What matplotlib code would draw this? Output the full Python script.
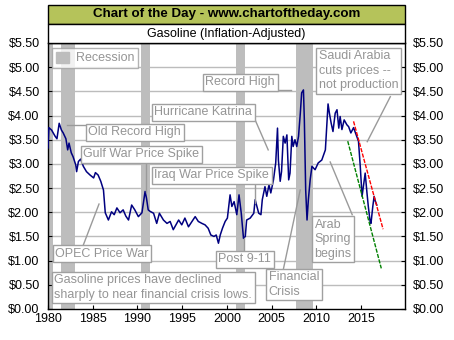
# gasoline chart, inflation adjusted, chart of the day style
import matplotlib.pyplot as plt
from matplotlib.patches import Rectangle, Patch

plt.rcParams['font.family'] = ['Liberation Sans', 'DejaVu Sans']

# price (year, dollars)
yrs = [1980.0, 1980.1, 1980.4, 1980.8, 1981.0, 1981.25, 1981.5, 1981.7, 1982.0, 1982.2,
       1982.35, 1982.6, 1982.8, 1983.1, 1983.2, 1983.4, 1983.65, 1983.95, 1984.3, 1984.7,
       1985.1, 1985.3, 1985.6, 1985.9, 1986.2, 1986.4, 1986.75, 1987.1, 1987.4, 1987.7,
       1988.05, 1988.4, 1988.7, 1989.0, 1989.35, 1989.7, 1990.1, 1990.5, 1990.85, 1991.0,
       1991.2, 1991.4, 1991.8, 1992.15, 1992.45, 1992.9, 1993.3, 1993.65, 1994.0, 1994.6,
       1994.95, 1995.3, 1995.7, 1996.1, 1996.45, 1996.8, 1997.2, 1997.55, 1997.9, 1998.2,
       1998.55, 1998.8, 1999.05, 1999.25, 1999.5, 1999.8, 2000.05, 2000.35, 2000.55, 2000.8,
       2001.1, 2001.35, 2001.6, 2001.85, 2002.05, 2002.2, 2002.6, 2003.0, 2003.15, 2003.35,
       2003.55, 2003.8, 2003.95, 2004.25, 2004.45, 2004.7, 2004.9, 2005.2, 2005.45, 2005.65,
       2005.75, 2005.95, 2006.1, 2006.3, 2006.5, 2006.7, 2006.9, 2007.05, 2007.25, 2007.4,
       2007.6, 2007.8, 2008.0, 2008.2, 2008.35, 2008.55, 2008.65, 2008.8, 2008.95, 2009.1,
       2009.3, 2009.5, 2009.85, 2010.2, 2010.6, 2011.0, 2011.15, 2011.3, 2011.45, 2011.65,
       2011.85, 2012.1, 2012.3, 2012.5, 2012.65, 2012.85, 2013.1, 2013.4, 2013.6, 2013.85,
       2014.15, 2014.5, 2014.7, 2014.9, 2015.1, 2015.25, 2015.45, 2015.65, 2015.8, 2016.0,
       2016.1, 2016.3, 2016.45, 2016.6, 2016.75]
price = [3.33, 3.75, 3.70, 3.57, 3.52, 3.84, 3.70, 3.64, 3.52, 3.29,
         3.43, 3.23, 3.15, 2.98, 2.84, 3.05, 3.10, 2.95, 2.84, 2.77,
         2.71, 2.82, 2.77, 2.64, 2.46, 1.99, 1.84, 2.01, 1.95, 2.09,
         1.99, 2.05, 1.92, 1.84, 2.15, 2.05, 1.91, 1.99, 2.43, 2.30,
         2.05, 2.02, 1.98, 1.77, 1.98, 1.84, 1.77, 1.81, 1.64, 1.84,
         1.74, 1.88, 1.70, 1.81, 1.91, 1.81, 1.77, 1.74, 1.67, 1.53,
         1.50, 1.53, 1.36, 1.53, 1.67, 1.81, 1.88, 2.36, 2.12, 2.22,
         1.95, 2.36, 1.98, 1.46, 1.50, 1.84, 1.88, 1.98, 2.26, 2.12,
         1.98, 1.95, 2.26, 2.53, 2.33, 2.57, 2.40, 2.67, 3.02, 3.74,
         3.08, 2.64, 2.84, 3.57, 3.43, 3.60, 2.67, 2.81, 3.57, 3.36,
         3.50, 3.36, 3.57, 4.05, 4.47, 4.53, 3.91, 2.46, 1.84, 2.26,
         2.67, 2.95, 2.88, 3.02, 3.08, 3.29, 3.77, 4.24, 4.05, 3.84,
         3.67, 4.05, 4.12, 3.74, 3.98, 3.71, 3.91, 3.81, 3.77, 3.64,
         3.75, 3.57, 3.47, 2.95, 2.33, 2.53, 2.81, 2.40, 2.12, 1.81,
         1.77, 2.12, 2.33, 2.22, 2.15]

# trend lines
trend_x_red = [2014.15, 2017.45]
trend_y_red = [3.88, 1.65]
trend_x_green = [2013.5, 2017.25]
trend_y_green = [3.47, 0.84]

# recessions (start, end)
recessions = [(1980.0, 1980.6), (1981.45, 1983.0), (1990.4, 1991.4),
              (2001.0, 2002.0), (2007.7, 2009.6)]

yticks = [0, 0.5, 1, 1.5, 2, 2.5, 3, 3.5, 4, 4.5, 5, 5.5]
xticks = [1980, 1985, 1990, 1995, 2000, 2005, 2010, 2015]

W, H = 454, 340
fig = plt.figure(figsize=(W / 100, H / 100), dpi=100)
fig.patch.set_facecolor('white')

L, R, T, B = 48, 405, 43, 309
ax = fig.add_axes([L / W, 1 - B / H, (R - L) / W, (B - T) / H])

# title bands
fig.patches.append(Rectangle((L / W, 1 - 24 / H), (R - L) / W, 19 / H, transform=fig.transFigure,
                             facecolor='#b5c35a', edgecolor='black', lw=1))
fig.patches.append(Rectangle((L / W, 1 - 43 / H), (R - L) / W, 19 / H, transform=fig.transFigure,
                             facecolor='white', edgecolor='black', lw=1))
fig.text((L + R) / 2 / W, 1 - 14.5 / H, 'Chart of the Day - www.chartoftheday.com',
         ha='center', va='center', fontsize=9.6, fontweight='bold', color='black')
fig.text((L + R) / 2 / W, 1 - 33.5 / H, 'Gasoline (Inflation-Adjusted)',
         ha='center', va='center', fontsize=9, color='black')

rec_col = '#bdbdbd'
for a, b in recessions:
    ax.axvspan(a, b, color=rec_col, lw=0, zorder=1)

for y in yticks[1:]:
    ax.axhline(y, color='#bcbcbc', lw=1, zorder=0.5)

ax.plot(yrs, price, color='#000080', lw=1.1, zorder=3)
ax.plot(trend_x_red, trend_y_red, color='red', lw=1, ls=(0, (3, 1)), zorder=4)
ax.plot(trend_x_green, trend_y_green, color='green', lw=1, ls=(0, (3, 1)), zorder=4)

ax.set_xlim(1980, 2019.9)
ax.set_ylim(0, 5.5)
ax.set_xticks(xticks)
ax.set_yticks(yticks)
ax.set_yticklabels(['$%.2f' % v for v in yticks])
ax.tick_params(axis='both', labelsize=9, direction='in', length=3, colors='black', pad=3)
ax.tick_params(axis='y', left=True, right=True, labelleft=True, labelright=True, pad=6)
for s in ax.spines.values():
    s.set_color('black')
    s.set_linewidth(1)

gray_txt = '#959595'
box = dict(boxstyle='square,pad=0.2', fc='white', ec='#a0a0a0', lw=1)

notes = [
    (1997.6, 4.81, 'Record High'),
    (2010.25, 5.35, 'Saudi Arabia\ncuts prices --\nnot production'),
    (1991.9, 4.19, 'Hurricane Katrina'),
    (1984.5, 3.78, 'Old Record High'),
    (1983.95, 3.32, 'Gulf War Price Spike'),
    (1991.9, 2.89, 'Iraq War Price Spike'),
    (1980.8, 1.27, 'OPEC Price War'),
    (1999.05, 1.15, 'Post 9-11'),
    (1980.7, 0.72, 'Gasoline prices have declined\nsharply to near financial crisis lows.'),
    (2004.65, 0.78, 'Financial\nCrisis'),
    (2009.8, 1.87, 'Arab\nSpring\nbegins'),
]
for x, y, t in notes:
    ax.text(x, y, t, ha='left', va='top', fontsize=9, color=gray_txt, bbox=box,
            linespacing=1.28, zorder=6)

connectors = [
    ((2005.73, 2007.18), (4.53, 4.53)),
    ((2018.26, 2015.68), (4.39, 3.46)),
    ((2003.15, 2004.61), (3.91, 3.29)),
    ((1982.13, 1984.36), (3.81, 3.81)),
    ((1990.93, 1990.93), (3.04, 2.42)),
    ((2003.15, 2003.15), (2.63, 2.19)),
    ((1983.9, 1985.7), (1.30, 2.17)),
    ((2001.92, 2001.92), (1.18, 1.47)),
    ((2006.29, 2008.19), (0.81, 2.46)),
    ((2014.0, 2011.54), (1.95, 3.04)),
]
for xs, ys in connectors:
    ax.plot(xs, ys, color='#9a9a9a', lw=1, zorder=5)

leg = ax.legend(handles=[Patch(color=rec_col, label='Recession')], loc='upper left',
                bbox_to_anchor=(0.012, 0.982), fontsize=9, frameon=True, fancybox=False,
                handlelength=1.0, handleheight=1.0, handletextpad=0.6, borderpad=0.3,
                borderaxespad=0)
leg.get_frame().set_edgecolor('#a0a0a0')
leg.get_frame().set_linewidth(1)
for t in leg.get_texts():
    t.set_color(gray_txt)
leg.set_zorder(7)

fig.savefig('out.png', dpi=100)
